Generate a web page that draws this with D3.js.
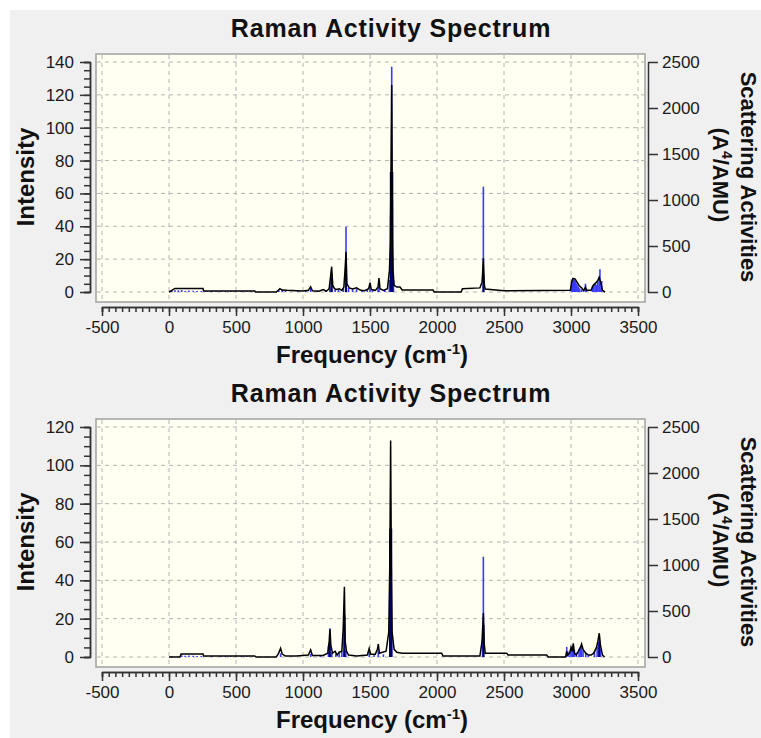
<!DOCTYPE html>
<html>
<head>
<meta charset="utf-8">
<script src="https://cdn.jsdelivr.net/npm/d3@7"></script>
<style>
  body { margin: 0; background: #fff; }
  text { font-family: "Liberation Sans", Arial, sans-serif; }
</style>
</head>
<body>
<svg width="761" height="738"></svg>
<script>
// tick values
const xTicks = [-500, 0, 500, 1000, 1500, 2000, 2500, 3000, 3500];
const topLeftTicks = [0, 20, 40, 60, 80, 100, 120, 140];
const bottomLeftTicks = [0, 20, 40, 60, 80, 100, 120];
const rightTicks = [0, 500, 1000, 1500, 2000, 2500];

// broadened spectrum, [frequency, intensity]
const topSpectrum = [
  [0, 0], [30, 1.5], [45, 2.2], [254, 2.2], [258, 0.6], [640, 0.6], [645, 0], [800, 0],
  [815, 1], [828, 2], [845, 1.2], [880, 1], [950, 0.8], [1000, 0.6], [1040, 1], [1057, 3.2],
  [1070, 0.8], [1120, 0.5], [1150, 1.5], [1175, 0.5], [1195, 2], [1205, 9], [1214, 15.4],
  [1222, 4], [1235, 2], [1250, 1.5], [1270, 2], [1290, 1], [1305, 3], [1315, 15], [1321, 24.5],
  [1328, 5], [1345, 2.5], [1370, 1.8], [1400, 2.5], [1430, 1], [1460, 0.8], [1490, 2],
  [1500, 5.5], [1510, 1.5], [1540, 1], [1560, 3], [1567, 8.5], [1575, 2], [1600, 1], [1630, 2],
  [1645, 13], [1652, 30], [1662, 126], [1668, 30], [1672, 13], [1680, 4], [1700, 3], [1724, 3],
  [1740, 1.2], [1970, 1.2], [1980, 0], [2180, 0], [2190, 2], [2320, 2.5], [2336, 6], [2340, 11],
  [2346, 20.5], [2352, 5], [2360, 1.8], [2500, 0.8], [2995, 1], [3005, 6], [3015, 8.3],
  [3030, 8], [3045, 6], [3060, 4], [3080, 2.5], [3095, 0.8], [3108, 3], [3115, 1], [3150, 1],
  [3165, 4], [3180, 5], [3200, 7], [3210, 9], [3222, 6], [3235, 1], [3254, 0]
];
const bottomSpectrum = [
  [0, 0], [82, 0], [90, 1.6], [254, 1.6], [258, 0.5], [640, 0.5], [650, 0], [800, 0],
  [815, 1.5], [833, 4.5], [845, 1.5], [870, 0.5], [950, 0.5], [1040, 1], [1057, 3.7],
  [1070, 0.8], [1150, 0.8], [1185, 2], [1195, 8], [1201, 14.5], [1208, 6], [1220, 2],
  [1240, 3], [1255, 1], [1270, 2.5], [1290, 3], [1300, 15], [1309, 36.7], [1315, 8], [1325, 3],
  [1340, 1], [1400, 0.5], [1480, 1], [1494, 4.5], [1505, 1.5], [1540, 1.5], [1555, 4],
  [1562, 6.8], [1570, 2], [1620, 3], [1640, 13], [1648, 50], [1654, 113], [1660, 40],
  [1665, 13], [1680, 4], [1700, 2.5], [1740, 2], [2035, 2], [2045, 0.5], [2320, 0.5],
  [2336, 8], [2340, 14], [2346, 23], [2352, 7], [2360, 2], [2520, 1.9], [2530, 1], [2818, 1],
  [2830, 0], [2960, 0], [2968, 3], [2975, 1], [2990, 2], [3000, 5], [3010, 3], [3017, 7.1],
  [3025, 2], [3040, 1], [3055, 3], [3070, 5], [3079, 6.8], [3090, 4], [3110, 2], [3130, 1],
  [3150, 1], [3170, 2], [3190, 5], [3200, 8], [3211, 12.4], [3220, 6], [3235, 1], [3250, 0]
];

// dark filled cores of the strong bands, [frequency, intensity]
const topBands = [
  [[1204, 0], [1205, 9.3], [1221, 9.3], [1222, 0]],
  [[1312, 0], [1313, 17], [1328, 17], [1329, 0]],
  [[1647, 0], [1648, 73], [1674, 73], [1675, 0]],
  [[2339, 0], [2340, 11], [2354, 11], [2355, 0]]
];
const bottomBands = [
  [[1192, 0], [1193, 8], [1207, 8], [1208, 0]],
  [[1300, 0], [1301, 21.9], [1316, 21.9], [1317, 0]],
  [[1642, 0], [1643, 67], [1666, 67], [1667, 0]],
  [[2339, 0], [2340, 16.7], [2354, 16.7], [2355, 0]],
  [[3203, 0], [3205, 8], [3216, 8], [3218, 0]]
];

// scattering activities (sticks), [frequency, activity]
const topSticks = [
  [20, 15], [45, 20], [70, 18], [95, 22], [120, 12], [150, 16], [180, 14], [210, 10], [240, 12],
  [280, 9], [320, 11], [350, 8], [390, 10], [420, 9], [460, 12], [500, 8], [540, 10], [580, 9],
  [610, 7], [820, 15], [845, 25], [870, 12], [960, 10], [1020, 14], [1057, 40], [1110, 15],
  [1170, 20], [1200, 60], [1214, 130], [1240, 30], [1265, 25], [1300, 40], [1321, 710],
  [1340, 45], [1370, 30], [1400, 35], [1440, 20], [1480, 25], [1500, 98], [1520, 20],
  [1560, 40], [1567, 60], [1610, 25], [1645, 130], [1662, 2449], [1675, 130], [2346, 1145],
  [3005, 110], [3010, 140], [3015, 150], [3020, 145], [3025, 130], [3030, 120], [3035, 110],
  [3040, 90], [3045, 80], [3055, 60], [3065, 40], [3080, 30], [3108, 90], [3115, 40],
  [3160, 60], [3170, 90], [3180, 100], [3190, 80], [3200, 110], [3210, 130], [3216, 247],
  [3225, 100], [3229, 120]
];
const bottomSticks = [
  [20, 8], [95, 18], [120, 14], [150, 16], [180, 14], [210, 12], [240, 12], [280, 9], [320, 11],
  [390, 10], [420, 9], [460, 12], [500, 8], [540, 10], [580, 9], [833, 40], [1057, 35],
  [1130, 12], [1190, 120], [1201, 312], [1215, 50], [1245, 40], [1270, 45], [1290, 60],
  [1309, 76], [1320, 70], [1494, 60], [1530, 30], [1562, 70], [1600, 30], [1648, 275],
  [1654, 1300], [1662, 275], [2340, 200], [2346, 1090], [2968, 110], [2985, 60], [3000, 90],
  [3010, 120], [3017, 130], [3025, 80], [3040, 50], [3060, 90], [3070, 110], [3079, 120],
  [3090, 70], [3110, 40], [3130, 20], [3175, 60], [3195, 110], [3205, 150], [3211, 200],
  [3220, 90]
];

const svg = d3.select("svg");
svg.append("rect").attr("x", 10).attr("y", 10).attr("width", 751).attr("height", 728)
  .attr("fill", "#f0f0f0");

const x = d3.scaleLinear().domain([-500, 3500]).range([102, 638]);

function drawPanel(dy, leftMax, leftTicks, spectrum, bands, sticks) {
  const g = svg.append("g").attr("transform", `translate(0,${dy})`);
  const yL = d3.scaleLinear().domain([0, leftMax]).range([292, 62]);
  const yR = d3.scaleLinear().domain([0, 2500]).range([292, 62]);

  g.append("rect").attr("x", 96).attr("y", 54).attr("width", 549).attr("height", 248)
    .attr("fill", "#fffff2").attr("stroke", "#a0a0a0").attr("stroke-width", 1.5);

  // grid
  g.selectAll(".vgrid").data(xTicks).enter().append("line")
    .attr("x1", (d) => x(d)).attr("x2", (d) => x(d)).attr("y1", 55).attr("y2", 301)
    .attr("stroke", "#b4b4b4").attr("stroke-dasharray", "4,4");
  g.selectAll(".hgrid").data(leftTicks).enter().append("line")
    .attr("x1", 97).attr("x2", 644).attr("y1", (d) => yL(d)).attr("y2", (d) => yL(d))
    .attr("stroke", "#b4b4b4").attr("stroke-dasharray", "4,4");

  // sticks
  g.selectAll(".stick").data(sticks).enter().append("line")
    .attr("x1", (d) => x(d[0])).attr("x2", (d) => x(d[0]))
    .attr("y1", yR(0)).attr("y2", (d) => yR(d[1]))
    .attr("stroke", "#3a3aff").attr("stroke-width", 1.6);

  // band cores
  const area = d3.area().x((d) => x(d[0])).y0(yL(0)).y1((d) => yL(d[1]));
  g.selectAll(".band").data(bands).enter().append("path")
    .attr("d", area).attr("fill", "#00006e");

  // spectrum
  const line = d3.line().x((d) => x(d[0])).y((d) => yL(d[1]));
  g.append("path").datum(spectrum).attr("d", line)
    .attr("fill", "none").attr("stroke", "#000").attr("stroke-width", 1.5);

  // axes
  const style = (s) => {
    s.selectAll("text").attr("font-size", 17).attr("fill", "#1a1a1a")
      .attr("font-family", "Liberation Sans, Arial, sans-serif");
    s.selectAll("line,path").attr("stroke", "#333").attr("stroke-width", 1.5);
  };
  g.append("g").attr("transform", "translate(90,0)")
    .call(d3.axisLeft(yL).tickValues(d3.range(0, leftMax + 1, 5)).tickSize(6).tickFormat(""))
    .call(style);
  g.append("g").attr("transform", "translate(90,0)")
    .call(d3.axisLeft(yL).tickValues(leftTicks).tickSize(10).tickSizeOuter(0).tickPadding(6)
      .tickFormat((d) => String(d)))
    .call(style);
  g.append("g").attr("transform", "translate(648,0)")
    .call(d3.axisRight(yR).tickValues(rightTicks).tickSize(10).tickSizeOuter(0).tickPadding(4)
      .tickFormat((d) => String(d)))
    .call(style);
  g.append("g").attr("transform", "translate(0,307)")
    .call(d3.axisBottom(x).tickValues(d3.range(-500, 3501, 50)).tickSize(5).tickFormat(""))
    .call(style);
  g.append("g").attr("transform", "translate(0,307)")
    .call(d3.axisBottom(x).tickValues(xTicks).tickSize(9).tickSizeOuter(0).tickPadding(5)
      .tickFormat((d) => String(d)))
    .call(style);

  // titles
  g.append("text").attr("x", 391).attr("y", 37).attr("text-anchor", "middle")
    .attr("font-size", 25).attr("font-weight", "bold").attr("letter-spacing", 0.8)
    .attr("fill", "#111").text("Raman Activity Spectrum");

  const xl = g.append("text").attr("x", 372).attr("y", 363).attr("text-anchor", "middle")
    .attr("font-size", 24).attr("font-weight", "bold").attr("fill", "#111");
  xl.append("tspan").text("Frequency (cm");
  xl.append("tspan").attr("font-size", 15).attr("dy", -9).text("-1");
  xl.append("tspan").attr("dy", 9).text(")");

  g.append("text").attr("transform", "translate(34,177) rotate(-90)")
    .attr("text-anchor", "middle").attr("font-size", 24).attr("font-weight", "bold")
    .attr("fill", "#111").text("Intensity");

  g.append("text").attr("transform", "translate(741,177) rotate(90)")
    .attr("text-anchor", "middle").attr("font-size", 22).attr("font-weight", "bold")
    .attr("fill", "#111").text("Scattering Activities");
  const rl = g.append("text").attr("transform", "translate(713,175) rotate(90)")
    .attr("text-anchor", "middle").attr("font-size", 22).attr("font-weight", "bold")
    .attr("fill", "#111");
  rl.append("tspan").text("(A");
  rl.append("tspan").attr("font-size", 14).attr("dy", -9).text("4");
  rl.append("tspan").attr("dy", 9).text("/AMU)");
}

drawPanel(0, 140, topLeftTicks, topSpectrum, topBands, topSticks);
drawPanel(365, 120, bottomLeftTicks, bottomSpectrum, bottomBands, bottomSticks);
</script>
</body>
</html>
